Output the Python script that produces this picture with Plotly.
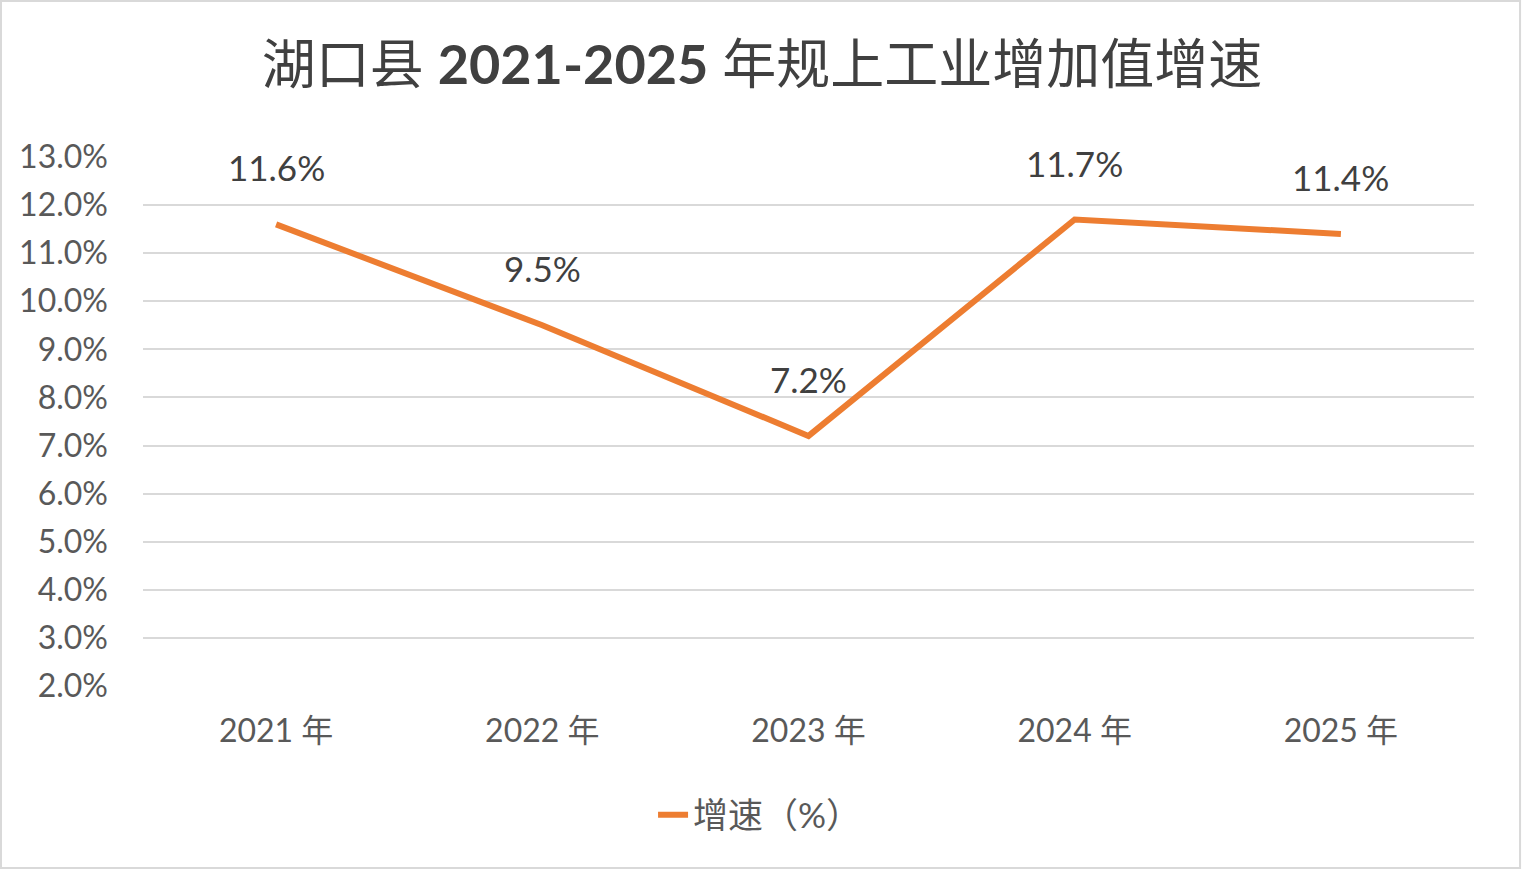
import plotly.graph_objects as go

# data
years = ['2021 年', '2022 年', '2023 年', '2024 年', '2025 年']
growth = [11.6, 9.5, 7.2, 11.7, 11.4]
growth_labels = ['11.6%', '9.5%', '7.2%', '11.7%', '11.4%']
series_name = '增速（%）'
chart_title = '湖口县 <b>2021-2025</b> 年规上工业增加值增速'

font_family = 'Lato, Noto Sans CJK SC, sans-serif'
orange = '#ED7D31'

fig = go.Figure()
fig.add_trace(go.Scatter(x=years, y=growth, mode='lines', name=series_name,
                         line=dict(color=orange, width=6)))

# data labels sit above each point
for yr, val, lab in zip(years, growth, growth_labels):
    fig.add_annotation(x=yr, y=val, text=lab, showarrow=False, yshift=57,
                       font=dict(family=font_family, size=35, color='#404040'))

# thin grey frame round the whole chart
fig.add_shape(type='rect', xref='paper', yref='paper',
              x0=-0.1067, x1=1.0346, y0=-0.344, y1=1.2949,
              line=dict(color='#D9D9D9', width=2), fillcolor='rgba(0,0,0,0)')

fig.update_layout(
    width=1524, height=876,
    margin=dict(l=143, r=50, t=157, b=190),
    paper_bgcolor='white', plot_bgcolor='white',
    font=dict(family=font_family, color='#595959'),
    title=dict(text=chart_title, x=0.5, xanchor='center', y=0.926, yanchor='middle',
               font=dict(family=font_family, size=54, color='#404040')),
    showlegend=True,
    legend=dict(orientation='h', x=0.4636, xanchor='center', y=-0.244, yanchor='middle',
                font=dict(family=font_family, size=35, color='#595959')),
    xaxis=dict(range=[-0.5, 4.5], showgrid=False, showline=False, zeroline=False,
               ticks='', ticklabelstandoff=23,
               tickfont=dict(family=font_family, size=32, color='#595959')),
    yaxis=dict(range=[2, 13], dtick=1, tickformat='.1f', ticksuffix='%',
               showgrid=True, gridcolor='#D9D9D9', gridwidth=2,
               zeroline=False, showline=False, ticks='', ticklabelstandoff=34,
               tickfont=dict(family=font_family, size=32, color='#595959')),
)

# drop the page's default body margin so the figure sits at the window's corner
fig.write_html("out.html", config={'displayModeBar': False},
               post_script="document.body.style.margin='0';")
